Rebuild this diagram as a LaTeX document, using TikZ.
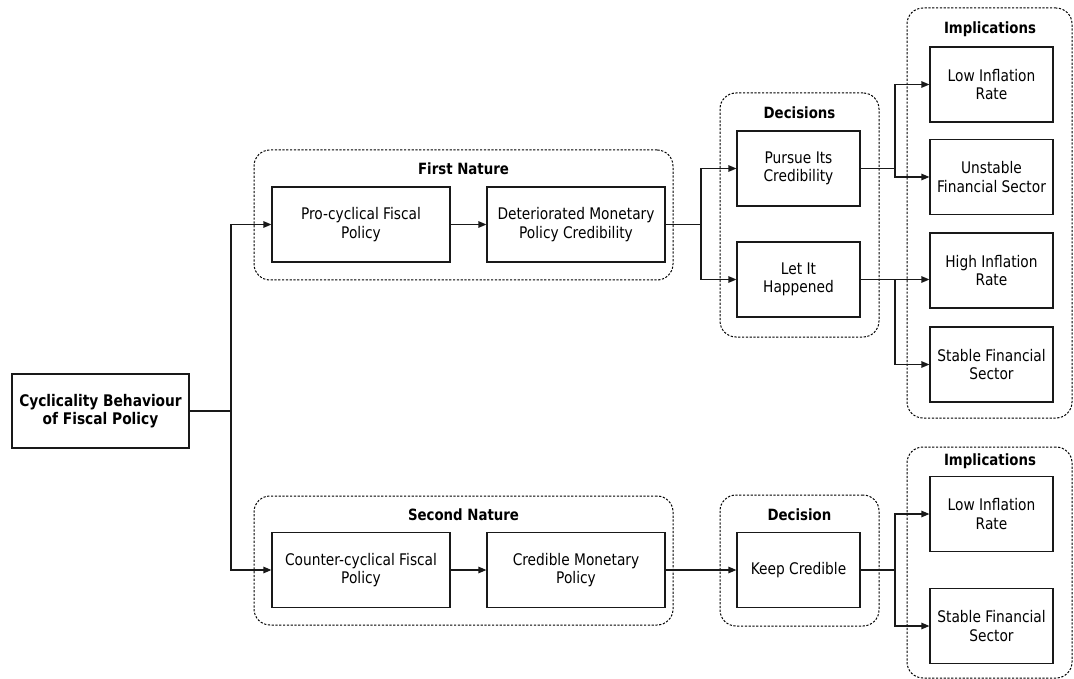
\documentclass[tikz,border=0pt]{standalone}
\usepackage{fontspec}
\setmainfont{DejaVu Sans}[FakeStretch=0.86]
\usetikzlibrary{arrows.meta}
\begin{document}
\begin{tikzpicture}[x=1pt,y=-1pt,
 box/.style={draw=black!90, line width=1.2pt, minimum width=178pt, minimum height=75pt, align=center, inner sep=0pt, font=\fontsize{16}{18.5}\selectfont},
 sbox/.style={box, minimum width=123pt},
 grp/.style={draw=black, line width=1pt, dash pattern=on 2.2pt off 1.6pt, rounded corners=16pt, inner sep=0pt},
 ttl/.style={font=\fontsize{15.5}{18}\selectfont\bfseries},
 arr/.style={draw=black!90, line width=1.2pt, -{Triangle[length=8pt,width=6.5pt]}},
 ln/.style={draw=black!90, line width=1.2pt}]
\fill[white] (0,0) rectangle (1074,679);
\useasboundingbox (0,0) rectangle (1074,679);
% groups
\node[grp, minimum width=419pt, minimum height=130pt] (g1) at (463.5,215) {};
\node[grp, minimum width=159pt, minimum height=244pt] (g2) at (799.5,215) {};
\node[grp, minimum width=165pt, minimum height=410pt] (g3) at (989.5,213) {};
\node[grp, minimum width=419pt, minimum height=129pt] (g4) at (463.5,560.5) {};
\node[grp, minimum width=159pt, minimum height=131pt] (g5) at (799.5,560.5) {};
\node[grp, minimum width=165pt, minimum height=231pt] (g6) at (989.5,562.5) {};
% titles
\node[ttl] (t1) at (463.5,169) {First Nature};
\node[ttl] (t2) at (799.5,113) {Decisions};
\node[ttl] (t3) at (990,29) {Implications};
\node[ttl] (t4) at (463.5,515) {Second Nature};
\node[ttl] (t5) at (799.5,515) {Decision};
\node[ttl] (t6) at (990,461) {Implications};
% boxes
\node[box, minimum width=177pt, minimum height=74pt, font=\fontsize{16}{18.5}\selectfont\bfseries] (main) at (100.5,411) {Cyclicality Behaviour\\of Fiscal Policy};
\node[box] (pro) at (361,224.5) {Pro-cyclical Fiscal\\Policy};
\node[box] (det) at (576,224.5) {Deteriorated Monetary\\Policy Credibility};
\node[sbox] (pursue) at (798.5,168.5) {Pursue Its\\Credibility};
\node[sbox] (let) at (798.5,279.5) {Let It\\Happened};
\node[sbox] (low1) at (991.5,84.5) {Low Inflation\\Rate};
\node[sbox] (unst) at (991.5,177) {Unstable\\Financial Sector};
\node[sbox] (high) at (991.5,270.5) {High Inflation\\Rate};
\node[sbox] (stab1) at (991.5,364.5) {Stable Financial\\Sector};
\node[box] (counter) at (361,570) {Counter-cyclical Fiscal\\Policy};
\node[box] (cred) at (576,570) {Credible Monetary\\Policy};
\node[sbox] (keep) at (798.5,570) {Keep Credible};
\node[sbox] (low2) at (991.5,514) {Low Inflation\\Rate};
\node[sbox] (stab2) at (991.5,626) {Stable Financial\\Sector};
% connectors
\coordinate (s0) at (231,411);
\draw[ln] (main.east) -- (s0);
\draw[arr] (s0) |- (pro.west);
\draw[arr] (s0) |- (counter.west);
\draw[arr] (pro) -- (det);
\draw[arr] (counter) -- (cred);
\draw[arr] (cred) -- (keep);
\coordinate (s1) at (701,224.5);
\draw[ln] (det.east) -- (s1);
\draw[arr] (s1) |- (pursue.west);
\draw[arr] (s1) |- (let.west);
\coordinate (s2) at (895,168.5);
\draw[ln] (pursue.east) -- (s2);
\draw[arr] (s2) |- (low1.west);
\draw[arr] (s2) |- (unst.west);
\coordinate (s3) at (895,279.5);
\draw[ln] (let.east) -- (s3);
\draw[arr] (s3) -- (s3 -| high.west);
\draw[arr] (s3) |- (stab1.west);
\coordinate (s4) at (895,570);
\draw[ln] (keep.east) -- (s4);
\draw[arr] (s4) |- (low2.west);
\draw[arr] (s4) |- (stab2.west);
\end{tikzpicture}
\end{document}
